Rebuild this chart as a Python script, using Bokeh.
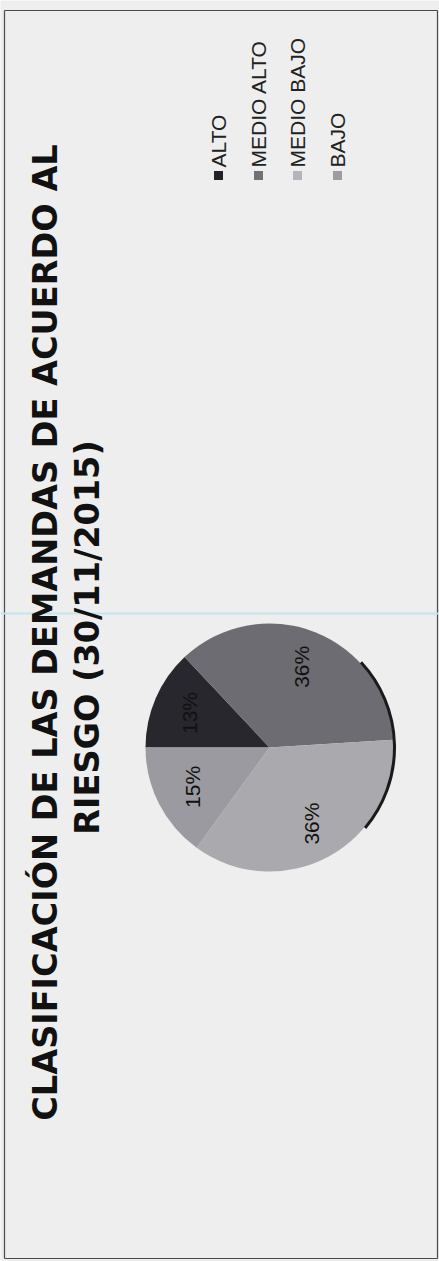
import numpy as np
from bokeh.plotting import figure
from bokeh.models import Range1d
from bokeh.core.properties import value
from bokeh.embed import file_html
from bokeh.resources import INLINE

# ---- data ----
categories = ["ALTO", "MEDIO ALTO", "MEDIO BAJO", "BAJO"]
percentages = [13, 36, 36, 15]
slice_colors = ["#27272d", "#6c6c72", "#aaaaae", "#9a9aa0"]
legend_colors = ["#222226", "#707076", "#b4b4bc", "#9c9ca2"]
title_lines = ["CLASIFICACIÓN DE LAS DEMANDAS DE ACUERDO AL", "RIESGO (30/11/2015)"]

W, H = 439, 1261


def Y(img_y):
    return H - img_y


p = figure(width=W, height=H, output_backend="svg", toolbar_location=None,
           x_range=Range1d(0, W), y_range=Range1d(0, H), min_border=0)
p.axis.visible = False
p.grid.visible = False
p.background_fill_color = "#eeeeee"
p.border_fill_color = "#eeeeee"
p.outline_line_color = None

# page frame (scanned border)
p.segment(x0=[4, 4, 437, 4], y0=[Y(10), Y(1258), Y(10), Y(10)],
          x1=[437, 437, 437, 4], y1=[Y(10), Y(1258), Y(1258), Y(1258)],
          line_color="#4a4a4a", line_width=1.2)

# scan artifact line
p.segment(x0=[0], y0=[Y(613)], x1=[W], y1=[Y(613)], line_color="#c4e4ea", line_width=2)

# ---- pie (rotated: starts at left, goes clockwise) ----
cx, cy, r = 269, Y(747), 124
frac = np.array(percentages, dtype=float) / sum(percentages)
ang = frac * 2 * np.pi
start = np.pi - np.concatenate([[0], np.cumsum(ang)[:-1]])
end = start - ang
p.wedge(x=cx, y=cy, radius=r, start_angle=end, end_angle=start,
        fill_color=slice_colors, line_color=None)
# dark shadow edge on right side
p.arc(x=cx, y=cy, radius=r + 1, start_angle=-0.7, end_angle=0.75,
      line_color="#1a1a1a", line_width=3)

mid = (start + end) / 2
lx = cx + 0.7 * r * np.cos(mid)
ly = cy + 0.7 * r * np.sin(mid)
p.text(x=lx, y=ly, text=[f"{v}%" for v in percentages], angle=np.pi / 2,
       text_align="center", text_baseline="middle", text_font=value("Liberation Sans"),
       text_font_size="21px", text_color="#111111")

# ---- title (rotated) ----
p.text(x=[45, 87], y=[Y(632), Y(637)], text=title_lines, angle=np.pi / 2,
       text_align="center", text_baseline="middle", text_font=value("DejaVu Sans"),
       text_font_style="bold", text_font_size="33.5px", text_color="#111111")

# ---- legend (rotated) ----
leg_x = [218, 258, 297, 337]
p.scatter(x=leg_x, y=[Y(175)] * 4, marker="square", size=9,
          fill_color=legend_colors, line_color=None)
p.text(x=leg_x, y=[Y(167)] * 4, text=categories, angle=np.pi / 2,
       text_align="left", text_baseline="middle", text_font=value("Liberation Sans"),
       text_font_size="21px", text_color="#222222")

html = file_html(p, INLINE)
html = html.replace("<body>", '<body style="background-color:#eeeeee;">', 1)
open("out.html", "w").write(html)
